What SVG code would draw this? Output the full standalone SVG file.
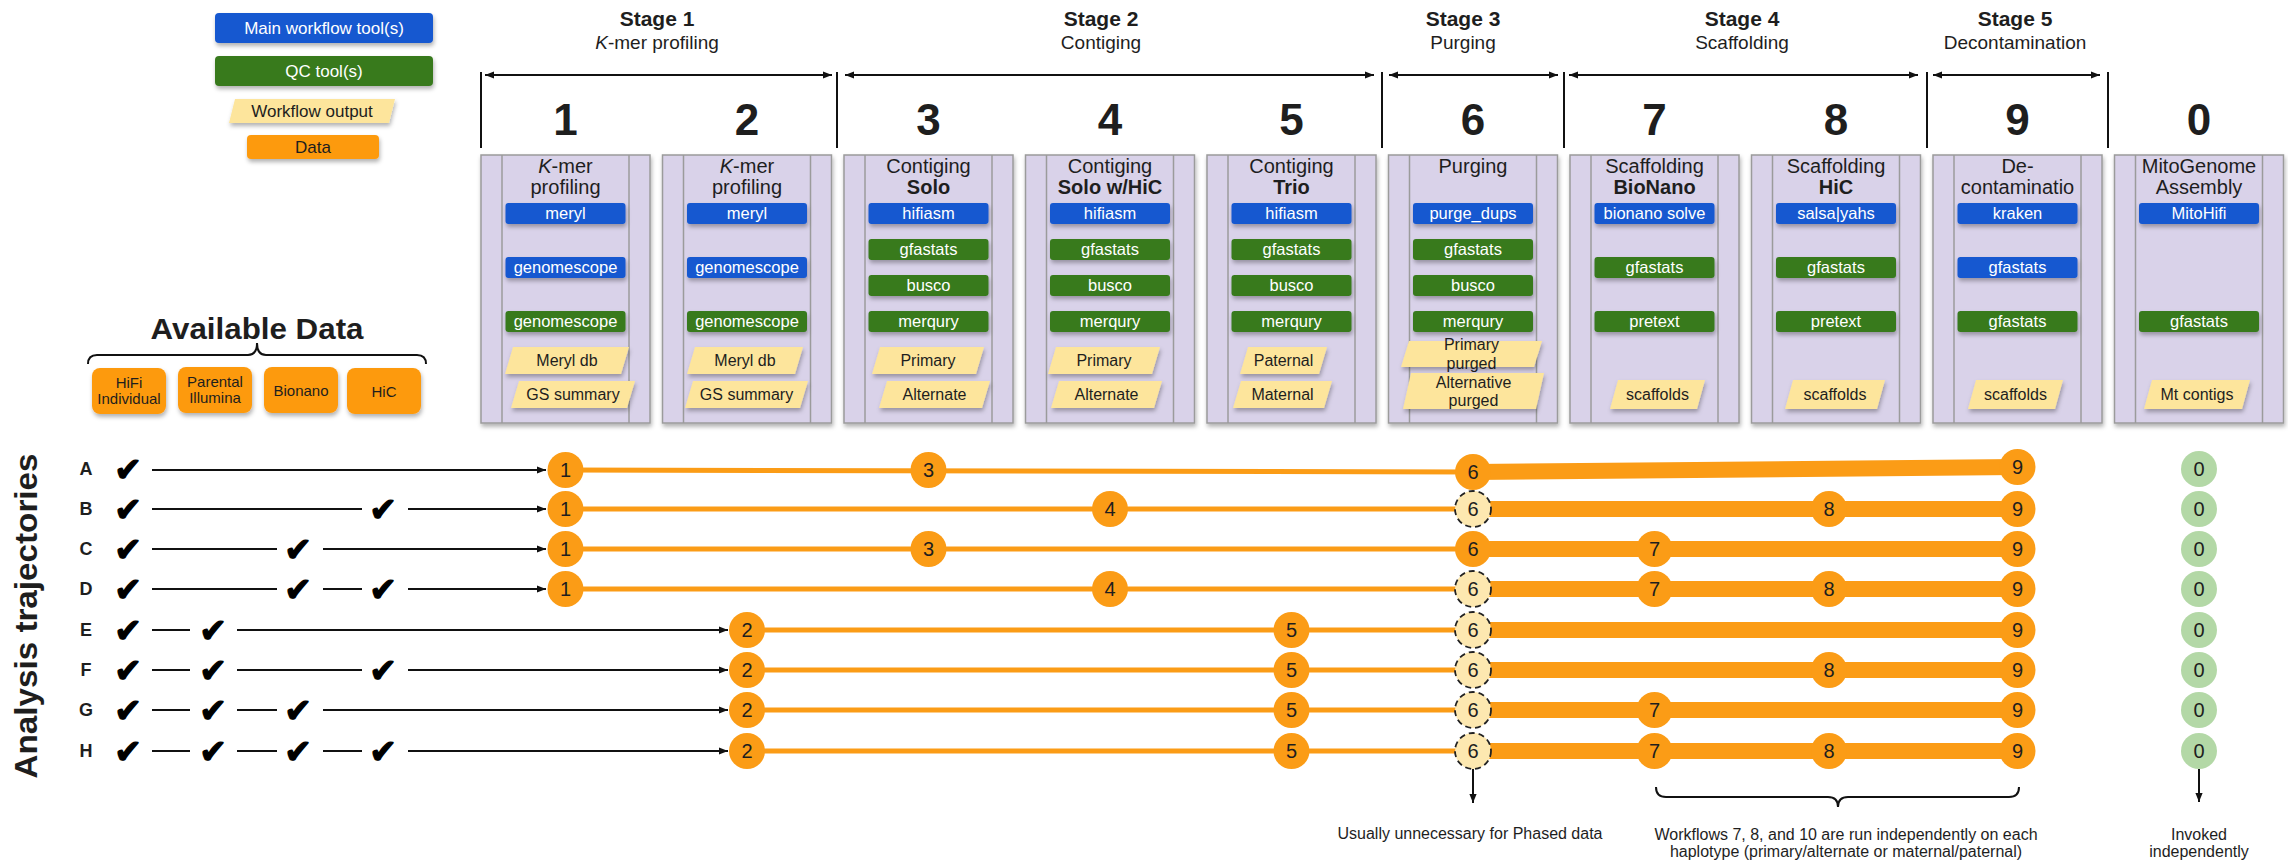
<svg xmlns="http://www.w3.org/2000/svg" width="2288" height="862" viewBox="0 0 2288 862">
  <defs>
    <style>
      text { font-family: "Liberation Sans", Arial, sans-serif; fill: #1e1e1e; }
      .stage { font-size: 21px; font-weight: bold; text-anchor: middle; }
      .sub { font-size: 19px; text-anchor: middle; }
      .num { font-size: 44px; font-weight: bold; text-anchor: middle; }
      .panel { fill: #d9d2e9; stroke: #9b9b9b; stroke-width: 1.5; }
      .strip { stroke: #9b9b9b; stroke-width: 1.5; }
      .ttl { font-size: 20px; text-anchor: middle; }
      .ttlb { font-size: 20px; font-weight: bold; text-anchor: middle; }
      .main { fill: #1558d0; }
      .qc { fill: #387a1f; }
      .tool { font-size: 16.5px; fill: #ffffff; text-anchor: middle; }
      .out { fill: #fde59c; }
      .otxt { font-size: 16px; text-anchor: middle; }
      .data { fill: #fd9a10; }
      .dtxt { font-size: 15px; text-anchor: middle; }
      .leg { font-size: 17px; text-anchor: middle; }
      .legw { font-size: 17px; text-anchor: middle; fill: #ffffff; }
      .row { font-size: 18px; font-weight: bold; text-anchor: middle; }
      .chk { font-family: "DejaVu Sans", sans-serif; font-size: 33px; text-anchor: middle; fill: #000; stroke: #000; stroke-width: 1.3; }
      .blk { stroke: #111; stroke-width: 2; fill: none; }
      .thin { stroke: #fb9c16; stroke-width: 5; fill: none; }
      .thick { stroke: #fb9c16; stroke-width: 16; fill: none; }
      .dot { fill: #fb9c16; }
      .opt { fill: #fde8b0; stroke: #222; stroke-width: 1.8; stroke-dasharray: 6 4; }
      .mito { fill: #b3d8a6; }
      .ctxt { font-size: 20px; text-anchor: middle; }
      .note { font-size: 16px; text-anchor: middle; }
      .brace { stroke: #111; stroke-width: 2; fill: none; }
    </style>
    <filter id="sh" x="-20%" y="-20%" width="140%" height="160%">
      <feDropShadow dx="1" dy="3" stdDeviation="2" flood-color="#000" flood-opacity="0.3"/>
    </filter>
    <marker id="ah" viewBox="0 0 10 10" refX="10" refY="5" markerWidth="10" markerHeight="9" markerUnits="userSpaceOnUse" orient="auto-start-reverse">
      <path d="M0,1 L10,5 L0,9 Z" fill="#111"/>
    </marker>
  </defs>

  <rect width="2288" height="862" fill="#ffffff"/>

  <!-- Legend -->
  <g id="legend">
    <rect x="215" y="13" width="218" height="30" rx="4" class="main" filter="url(#sh)"/>
    <text x="324" y="34" class="legw">Main workflow tool(s)</text>
    <rect x="215" y="56" width="218" height="30" rx="4" class="qc" filter="url(#sh)"/>
    <text x="324" y="77" class="legw">QC tool(s)</text>
    <polygon points="235,99 395,99 389,123 229,123" class="out" filter="url(#sh)"/>
    <text x="312" y="117" class="leg">Workflow output</text>
    <rect x="247" y="135" width="132" height="24" rx="4" class="data" filter="url(#sh)"/>
    <text x="313" y="153" class="leg">Data</text>
  </g>

  <!-- Stage headings -->
  <g id="stages">
    <text x="657" y="26" class="stage">Stage 1</text>
    <text x="657" y="49" class="sub"><tspan font-style="italic">K</tspan>-mer profiling</text>
    <text x="1101" y="26" class="stage">Stage 2</text>
    <text x="1101" y="49" class="sub">Contiging</text>
    <text x="1463" y="26" class="stage">Stage 3</text>
    <text x="1463" y="49" class="sub">Purging</text>
    <text x="1742" y="26" class="stage">Stage 4</text>
    <text x="1742" y="49" class="sub">Scaffolding</text>
    <text x="2015" y="26" class="stage">Stage 5</text>
    <text x="2015" y="49" class="sub">Decontamination</text>
    <!-- separators -->
    <g class="blk">
      <line x1="481" y1="72" x2="481" y2="148"/>
      <line x1="837" y1="72" x2="837" y2="148"/>
      <line x1="1382" y1="72" x2="1382" y2="148"/>
      <line x1="1564" y1="72" x2="1564" y2="148"/>
      <line x1="1927" y1="72" x2="1927" y2="148"/>
      <line x1="2108" y1="72" x2="2108" y2="148"/>
      <line x1="485" y1="75" x2="832" y2="75" marker-start="url(#ah)" marker-end="url(#ah)"/>
      <line x1="845" y1="75" x2="1374" y2="75" marker-start="url(#ah)" marker-end="url(#ah)"/>
      <line x1="1389" y1="75" x2="1558" y2="75" marker-start="url(#ah)" marker-end="url(#ah)"/>
      <line x1="1569" y1="75" x2="1918" y2="75" marker-start="url(#ah)" marker-end="url(#ah)"/>
      <line x1="1933" y1="75" x2="2100" y2="75" marker-start="url(#ah)" marker-end="url(#ah)"/>
    </g>
    <text x="565.5" y="135" class="num">1</text>
    <text x="747" y="135" class="num">2</text>
    <text x="928.5" y="135" class="num">3</text>
    <text x="1110" y="135" class="num">4</text>
    <text x="1291.5" y="135" class="num">5</text>
    <text x="1473" y="135" class="num">6</text>
    <text x="1654.5" y="135" class="num">7</text>
    <text x="1836" y="135" class="num">8</text>
    <text x="2017.5" y="135" class="num">9</text>
    <text x="2199" y="135" class="num">0</text>
  </g>

  <!-- Workflow 1 -->
  <g id="wf1" transform="translate(481,0)">
    <rect x="0" y="155" width="169" height="268" class="panel" filter="url(#sh)"/>
    <line x1="21" y1="155" x2="21" y2="423" class="strip"/>
    <line x1="148" y1="155" x2="148" y2="423" class="strip"/>
    <text x="84.5" y="173" class="ttl"><tspan font-style="italic">K</tspan>-mer</text>
    <text x="84.5" y="194" class="ttl">profiling</text>
    <rect x="24.5" y="203" width="120" height="21" rx="3" class="main" filter="url(#sh)"/>
    <text x="84.5" y="219" class="tool">meryl</text>
    <rect x="24.5" y="257" width="120" height="21" rx="3" class="main" filter="url(#sh)"/>
    <text x="84.5" y="273" class="tool">genomescope</text>
    <rect x="24.5" y="311" width="120" height="21" rx="3" class="qc" filter="url(#sh)"/>
    <text x="84.5" y="327" class="tool">genomescope</text>
    <polygon points="32,347 148,347 140,374 24,374" class="out" filter="url(#sh)"/>
    <text x="86" y="366" class="otxt">Meryl db</text>
    <polygon points="38,381 154,381 146,408 30,408" class="out" filter="url(#sh)"/>
    <text x="92" y="400" class="otxt">GS summary</text>
  </g>

  <!-- Workflow 2 -->
  <g id="wf2" transform="translate(662.5,0)">
    <rect x="0" y="155" width="169" height="268" class="panel" filter="url(#sh)"/>
    <line x1="21" y1="155" x2="21" y2="423" class="strip"/>
    <line x1="148" y1="155" x2="148" y2="423" class="strip"/>
    <text x="84.5" y="173" class="ttl"><tspan font-style="italic">K</tspan>-mer</text>
    <text x="84.5" y="194" class="ttl">profiling</text>
    <rect x="24.5" y="203" width="120" height="21" rx="3" class="main" filter="url(#sh)"/>
    <text x="84.5" y="219" class="tool">meryl</text>
    <rect x="24.5" y="257" width="120" height="21" rx="3" class="main" filter="url(#sh)"/>
    <text x="84.5" y="273" class="tool">genomescope</text>
    <rect x="24.5" y="311" width="120" height="21" rx="3" class="qc" filter="url(#sh)"/>
    <text x="84.5" y="327" class="tool">genomescope</text>
    <polygon points="32.5,347 140.5,347 132.5,374 24.5,374" class="out" filter="url(#sh)"/>
    <text x="82.5" y="366" class="otxt">Meryl db</text>
    <polygon points="30.5,381 145.5,381 137.5,408 22.5,408" class="out" filter="url(#sh)"/>
    <text x="84" y="400" class="otxt">GS summary</text>
  </g>

  <!-- Workflow 3 -->
  <g id="wf3" transform="translate(844,0)">
    <rect x="0" y="155" width="169" height="268" class="panel" filter="url(#sh)"/>
    <line x1="21" y1="155" x2="21" y2="423" class="strip"/>
    <line x1="148" y1="155" x2="148" y2="423" class="strip"/>
    <text x="84.5" y="173" class="ttl">Contiging</text>
    <text x="84.5" y="194" class="ttlb">Solo</text>
    <rect x="24.5" y="203" width="120" height="21" rx="3" class="main" filter="url(#sh)"/>
    <text x="84.5" y="219" class="tool">hifiasm</text>
    <rect x="24.5" y="239" width="120" height="21" rx="3" class="qc" filter="url(#sh)"/>
    <text x="84.5" y="255" class="tool">gfastats</text>
    <rect x="24.5" y="275" width="120" height="21" rx="3" class="qc" filter="url(#sh)"/>
    <text x="84.5" y="291" class="tool">busco</text>
    <rect x="24.5" y="311" width="120" height="21" rx="3" class="qc" filter="url(#sh)"/>
    <text x="84.5" y="327" class="tool">merqury</text>
    <polygon points="36,347 140,347 132,374 28,374" class="out" filter="url(#sh)"/>
    <text x="84" y="366" class="otxt">Primary</text>
    <polygon points="43,381 146,381 138,408 35,408" class="out" filter="url(#sh)"/>
    <text x="90.5" y="400" class="otxt">Alternate</text>
  </g>

  <!-- Workflow 4 -->
  <g id="wf4" transform="translate(1025.5,0)">
    <rect x="0" y="155" width="169" height="268" class="panel" filter="url(#sh)"/>
    <line x1="21" y1="155" x2="21" y2="423" class="strip"/>
    <line x1="148" y1="155" x2="148" y2="423" class="strip"/>
    <text x="84.5" y="173" class="ttl">Contiging</text>
    <text x="84.5" y="194" class="ttlb">Solo w/HiC</text>
    <rect x="24.5" y="203" width="120" height="21" rx="3" class="main" filter="url(#sh)"/>
    <text x="84.5" y="219" class="tool">hifiasm</text>
    <rect x="24.5" y="239" width="120" height="21" rx="3" class="qc" filter="url(#sh)"/>
    <text x="84.5" y="255" class="tool">gfastats</text>
    <rect x="24.5" y="275" width="120" height="21" rx="3" class="qc" filter="url(#sh)"/>
    <text x="84.5" y="291" class="tool">busco</text>
    <rect x="24.5" y="311" width="120" height="21" rx="3" class="qc" filter="url(#sh)"/>
    <text x="84.5" y="327" class="tool">merqury</text>
    <polygon points="30.5,347 134.5,347 126.5,374 22.5,374" class="out" filter="url(#sh)"/>
    <text x="78.5" y="366" class="otxt">Primary</text>
    <polygon points="33.5,381 136.5,381 128.5,408 25.5,408" class="out" filter="url(#sh)"/>
    <text x="81" y="400" class="otxt">Alternate</text>
  </g>

  <!-- Workflow 5 -->
  <g id="wf5" transform="translate(1207,0)">
    <rect x="0" y="155" width="169" height="268" class="panel" filter="url(#sh)"/>
    <line x1="21" y1="155" x2="21" y2="423" class="strip"/>
    <line x1="148" y1="155" x2="148" y2="423" class="strip"/>
    <text x="84.5" y="173" class="ttl">Contiging</text>
    <text x="84.5" y="194" class="ttlb">Trio</text>
    <rect x="24.5" y="203" width="120" height="21" rx="3" class="main" filter="url(#sh)"/>
    <text x="84.5" y="219" class="tool">hifiasm</text>
    <rect x="24.5" y="239" width="120" height="21" rx="3" class="qc" filter="url(#sh)"/>
    <text x="84.5" y="255" class="tool">gfastats</text>
    <rect x="24.5" y="275" width="120" height="21" rx="3" class="qc" filter="url(#sh)"/>
    <text x="84.5" y="291" class="tool">busco</text>
    <rect x="24.5" y="311" width="120" height="21" rx="3" class="qc" filter="url(#sh)"/>
    <text x="84.5" y="327" class="tool">merqury</text>
    <polygon points="41,347 120,347 112,374 33,374" class="out" filter="url(#sh)"/>
    <text x="76.5" y="366" class="otxt">Paternal</text>
    <polygon points="34,381 125,381 117,408 26,408" class="out" filter="url(#sh)"/>
    <text x="75.5" y="400" class="otxt">Maternal</text>
  </g>

  <!-- Workflow 6 -->
  <g id="wf6" transform="translate(1388.5,0)">
    <rect x="0" y="155" width="169" height="268" class="panel" filter="url(#sh)"/>
    <line x1="21" y1="155" x2="21" y2="423" class="strip"/>
    <line x1="148" y1="155" x2="148" y2="423" class="strip"/>
    <text x="84.5" y="173" class="ttl">Purging</text>
    <rect x="24.5" y="203" width="120" height="21" rx="3" class="main" filter="url(#sh)"/>
    <text x="84.5" y="219" class="tool">purge_dups</text>
    <rect x="24.5" y="239" width="120" height="21" rx="3" class="qc" filter="url(#sh)"/>
    <text x="84.5" y="255" class="tool">gfastats</text>
    <rect x="24.5" y="275" width="120" height="21" rx="3" class="qc" filter="url(#sh)"/>
    <text x="84.5" y="291" class="tool">busco</text>
    <rect x="24.5" y="311" width="120" height="21" rx="3" class="qc" filter="url(#sh)"/>
    <text x="84.5" y="327" class="tool">merqury</text>
    <polygon points="20.5,341 153.5,341 145.5,367 12.5,367" class="out" filter="url(#sh)"/>
    <text x="83" y="350" class="otxt">Primary</text>
    <text x="83" y="369" class="otxt">purged</text>
    <polygon points="22.5,373 155.5,373 147.5,409 14.5,409" class="out" filter="url(#sh)"/>
    <text x="85" y="388" class="otxt">Alternative</text>
    <text x="85" y="406" class="otxt">purged</text>
  </g>

  <!-- Workflow 7 -->
  <g id="wf7" transform="translate(1570,0)">
    <rect x="0" y="155" width="169" height="268" class="panel" filter="url(#sh)"/>
    <line x1="21" y1="155" x2="21" y2="423" class="strip"/>
    <line x1="148" y1="155" x2="148" y2="423" class="strip"/>
    <text x="84.5" y="173" class="ttl">Scaffolding</text>
    <text x="84.5" y="194" class="ttlb">BioNano</text>
    <rect x="24.5" y="203" width="120" height="21" rx="3" class="main" filter="url(#sh)"/>
    <text x="84.5" y="219" class="tool">bionano solve</text>
    <rect x="24.5" y="257" width="120" height="21" rx="3" class="qc" filter="url(#sh)"/>
    <text x="84.5" y="273" class="tool">gfastats</text>
    <rect x="24.5" y="311" width="120" height="21" rx="3" class="qc" filter="url(#sh)"/>
    <text x="84.5" y="327" class="tool">pretext</text>
    <polygon points="48,380 135,380 127,409 40,409" class="out" filter="url(#sh)"/>
    <text x="87.5" y="400" class="otxt">scaffolds</text>
  </g>

  <!-- Workflow 8 -->
  <g id="wf8" transform="translate(1751.5,0)">
    <rect x="0" y="155" width="169" height="268" class="panel" filter="url(#sh)"/>
    <line x1="21" y1="155" x2="21" y2="423" class="strip"/>
    <line x1="148" y1="155" x2="148" y2="423" class="strip"/>
    <text x="84.5" y="173" class="ttl">Scaffolding</text>
    <text x="84.5" y="194" class="ttlb">HiC</text>
    <rect x="24.5" y="203" width="120" height="21" rx="3" class="main" filter="url(#sh)"/>
    <text x="84.5" y="219" class="tool">salsa|yahs</text>
    <rect x="24.5" y="257" width="120" height="21" rx="3" class="qc" filter="url(#sh)"/>
    <text x="84.5" y="273" class="tool">gfastats</text>
    <rect x="24.5" y="311" width="120" height="21" rx="3" class="qc" filter="url(#sh)"/>
    <text x="84.5" y="327" class="tool">pretext</text>
    <polygon points="41.5,380 133.5,380 125.5,409 33.5,409" class="out" filter="url(#sh)"/>
    <text x="83.5" y="400" class="otxt">scaffolds</text>
  </g>

  <!-- Workflow 9 -->
  <g id="wf9" transform="translate(1933,0)">
    <rect x="0" y="155" width="169" height="268" class="panel" filter="url(#sh)"/>
    <line x1="21" y1="155" x2="21" y2="423" class="strip"/>
    <line x1="148" y1="155" x2="148" y2="423" class="strip"/>
    <text x="84.5" y="173" class="ttl">De-</text>
    <text x="84.5" y="194" class="ttl">contaminatio</text>
    <rect x="24.5" y="203" width="120" height="21" rx="3" class="main" filter="url(#sh)"/>
    <text x="84.5" y="219" class="tool">kraken</text>
    <rect x="24.5" y="257" width="120" height="21" rx="3" class="main" filter="url(#sh)"/>
    <text x="84.5" y="273" class="tool">gfastats</text>
    <rect x="24.5" y="311" width="120" height="21" rx="3" class="qc" filter="url(#sh)"/>
    <text x="84.5" y="327" class="tool">gfastats</text>
    <polygon points="43,380 130,380 122,409 35,409" class="out" filter="url(#sh)"/>
    <text x="82.5" y="400" class="otxt">scaffolds</text>
  </g>

  <!-- Workflow 0 -->
  <g id="wf0" transform="translate(2114.5,0)">
    <rect x="0" y="155" width="169" height="268" class="panel" filter="url(#sh)"/>
    <line x1="21" y1="155" x2="21" y2="423" class="strip"/>
    <line x1="148" y1="155" x2="148" y2="423" class="strip"/>
    <text x="84.5" y="173" class="ttl">MitoGenome</text>
    <text x="84.5" y="194" class="ttl">Assembly</text>
    <rect x="24.5" y="203" width="120" height="21" rx="3" class="main" filter="url(#sh)"/>
    <text x="84.5" y="219" class="tool">MitoHifi</text>
    <rect x="24.5" y="311" width="120" height="21" rx="3" class="qc" filter="url(#sh)"/>
    <text x="84.5" y="327" class="tool">gfastats</text>
    <polygon points="37.5,380 135.5,380 127.5,409 29.5,409" class="out" filter="url(#sh)"/>
    <text x="82.5" y="400" class="otxt">Mt contigs</text>
  </g>

  <!-- Available data -->
  <g id="available-data">
    <text x="257" y="339" font-size="30" font-weight="bold" text-anchor="middle" textLength="213" lengthAdjust="spacingAndGlyphs">Available Data</text>
    <path class="brace" d="M88,364 Q88,355 97,355 L248,355 Q257,355 257,343 Q257,355 266,355 L417,355 Q426,355 426,364"/>
    <g filter="url(#sh)">
      <rect x="92" y="368" width="74" height="46" rx="8" class="data"/>
      <rect x="178" y="367" width="74" height="46" rx="8" class="data"/>
      <rect x="264" y="367" width="74" height="46" rx="8" class="data"/>
      <rect x="347" y="368" width="74" height="46" rx="8" class="data"/>
    </g>
    <text x="129" y="388" class="dtxt">HiFi</text>
    <text x="129" y="404" class="dtxt">Individual</text>
    <text x="215" y="387" class="dtxt">Parental</text>
    <text x="215" y="403" class="dtxt">Illumina</text>
    <text x="301" y="396" class="dtxt">Bionano</text>
    <text x="384" y="397" class="dtxt">HiC</text>
  </g>

  <!-- Trajectory axis label and row letters -->
  <g id="trajectory-labels">
    <text transform="translate(37,616) rotate(-90)" font-size="31" font-weight="bold" text-anchor="middle" textLength="325" lengthAdjust="spacingAndGlyphs">Analysis trajectories</text>
    <text x="86" y="475" class="row">A</text>
    <text x="86" y="515" class="row">B</text>
    <text x="86" y="555" class="row">C</text>
    <text x="86" y="595" class="row">D</text>
    <text x="86" y="636" class="row">E</text>
    <text x="86" y="676" class="row">F</text>
    <text x="86" y="716" class="row">G</text>
    <text x="86" y="757" class="row">H</text>
  </g>

  <!-- Connectors -->
  <g id="connectors">
    <!-- data availability chains -->
    <g class="blk">
      <line x1="152" y1="470" x2="546" y2="470" marker-end="url(#ah)"/>
      <line x1="152" y1="509" x2="362" y2="509"/>
      <line x1="408" y1="509" x2="546" y2="509" marker-end="url(#ah)"/>
      <line x1="152" y1="549" x2="277" y2="549"/>
      <line x1="323" y1="549" x2="546" y2="549" marker-end="url(#ah)"/>
      <line x1="152" y1="589" x2="277" y2="589"/>
      <line x1="323" y1="589" x2="362" y2="589"/>
      <line x1="408" y1="589" x2="546" y2="589" marker-end="url(#ah)"/>
      <line x1="152" y1="630" x2="190" y2="630"/>
      <line x1="237" y1="630" x2="728" y2="630" marker-end="url(#ah)"/>
      <line x1="152" y1="670" x2="190" y2="670"/>
      <line x1="237" y1="670" x2="362" y2="670"/>
      <line x1="408" y1="670" x2="728" y2="670" marker-end="url(#ah)"/>
      <line x1="152" y1="710" x2="190" y2="710"/>
      <line x1="237" y1="710" x2="277" y2="710"/>
      <line x1="323" y1="710" x2="728" y2="710" marker-end="url(#ah)"/>
      <line x1="152" y1="751" x2="190" y2="751"/>
      <line x1="237" y1="751" x2="277" y2="751"/>
      <line x1="323" y1="751" x2="362" y2="751"/>
      <line x1="408" y1="751" x2="728" y2="751" marker-end="url(#ah)"/>
      <!-- notes -->
      <line x1="1473" y1="769" x2="1473" y2="803" marker-end="url(#ah)"/>
      <line x1="2199" y1="769" x2="2199" y2="802" marker-end="url(#ah)"/>
    </g>
    <!-- workflow paths -->
    <g class="thin">
      <line x1="565.5" y1="470" x2="1473" y2="472"/>
      <line x1="565.5" y1="509" x2="1473" y2="509"/>
      <line x1="565.5" y1="549" x2="1473" y2="549"/>
      <line x1="565.5" y1="589" x2="1473" y2="589"/>
      <line x1="747" y1="630" x2="1473" y2="630"/>
      <line x1="747" y1="670" x2="1473" y2="670"/>
      <line x1="747" y1="710" x2="1473" y2="710"/>
      <line x1="747" y1="751" x2="1473" y2="751"/>
    </g>
    <g class="thick">
      <line x1="1473" y1="472" x2="2017.5" y2="467"/>
      <line x1="1473" y1="509" x2="2017.5" y2="509"/>
      <line x1="1473" y1="549" x2="2017.5" y2="549"/>
      <line x1="1473" y1="589" x2="2017.5" y2="589"/>
      <line x1="1473" y1="630" x2="2017.5" y2="630"/>
      <line x1="1473" y1="670" x2="2017.5" y2="670"/>
      <line x1="1473" y1="710" x2="2017.5" y2="710"/>
      <line x1="1473" y1="751" x2="2017.5" y2="751"/>
    </g>
    <path class="brace" d="M1656,787 Q1656,797 1666,797 L1828,797 Q1838,797 1838,807 Q1838,797 1848,797 L2009,797 Q2019,797 2019,787"/>
  </g>

  <!-- Row A -->
  <g id="row-A">
    <text x="128" y="481" class="chk">✔</text>
    <circle cx="565.5" cy="470" r="18" class="dot"/><text x="565.5" y="477" class="ctxt">1</text>
    <circle cx="928.5" cy="470" r="18" class="dot"/><text x="928.5" y="477" class="ctxt">3</text>
    <circle cx="1473" cy="472" r="18" class="dot"/><text x="1473" y="479" class="ctxt">6</text>
    <circle cx="2017.5" cy="467" r="18" class="dot"/><text x="2017.5" y="474" class="ctxt">9</text>
    <circle cx="2199" cy="469" r="18" class="mito"/><text x="2199" y="476" class="ctxt">0</text>
  </g>

  <!-- Row B -->
  <g id="row-B">
    <text x="128" y="521" class="chk">✔</text>
    <text x="383" y="521" class="chk">✔</text>
    <circle cx="565.5" cy="509" r="18" class="dot"/><text x="565.5" y="516" class="ctxt">1</text>
    <circle cx="1110" cy="509" r="18" class="dot"/><text x="1110" y="516" class="ctxt">4</text>
    <circle cx="1473" cy="509" r="18" class="opt"/><text x="1473" y="516" class="ctxt">6</text>
    <circle cx="1829" cy="509" r="18" class="dot"/><text x="1829" y="516" class="ctxt">8</text>
    <circle cx="2017.5" cy="509" r="18" class="dot"/><text x="2017.5" y="516" class="ctxt">9</text>
    <circle cx="2199" cy="509" r="18" class="mito"/><text x="2199" y="516" class="ctxt">0</text>
  </g>

  <!-- Row C -->
  <g id="row-C">
    <text x="128" y="561" class="chk">✔</text>
    <text x="298" y="561" class="chk">✔</text>
    <circle cx="565.5" cy="549" r="18" class="dot"/><text x="565.5" y="556" class="ctxt">1</text>
    <circle cx="928.5" cy="549" r="18" class="dot"/><text x="928.5" y="556" class="ctxt">3</text>
    <circle cx="1473" cy="549" r="18" class="dot"/><text x="1473" y="556" class="ctxt">6</text>
    <circle cx="1654.5" cy="549" r="18" class="dot"/><text x="1654.5" y="556" class="ctxt">7</text>
    <circle cx="2017.5" cy="549" r="18" class="dot"/><text x="2017.5" y="556" class="ctxt">9</text>
    <circle cx="2199" cy="549" r="18" class="mito"/><text x="2199" y="556" class="ctxt">0</text>
  </g>

  <!-- Row D -->
  <g id="row-D">
    <text x="128" y="601" class="chk">✔</text>
    <text x="298" y="601" class="chk">✔</text>
    <text x="383" y="601" class="chk">✔</text>
    <circle cx="565.5" cy="589" r="18" class="dot"/><text x="565.5" y="596" class="ctxt">1</text>
    <circle cx="1110" cy="589" r="18" class="dot"/><text x="1110" y="596" class="ctxt">4</text>
    <circle cx="1473" cy="589" r="18" class="opt"/><text x="1473" y="596" class="ctxt">6</text>
    <circle cx="1654.5" cy="589" r="18" class="dot"/><text x="1654.5" y="596" class="ctxt">7</text>
    <circle cx="1829" cy="589" r="18" class="dot"/><text x="1829" y="596" class="ctxt">8</text>
    <circle cx="2017.5" cy="589" r="18" class="dot"/><text x="2017.5" y="596" class="ctxt">9</text>
    <circle cx="2199" cy="589" r="18" class="mito"/><text x="2199" y="596" class="ctxt">0</text>
  </g>

  <!-- Row E -->
  <g id="row-E">
    <text x="128" y="642" class="chk">✔</text>
    <text x="213" y="642" class="chk">✔</text>
    <circle cx="747" cy="630" r="18" class="dot"/><text x="747" y="637" class="ctxt">2</text>
    <circle cx="1291.5" cy="630" r="18" class="dot"/><text x="1291.5" y="637" class="ctxt">5</text>
    <circle cx="1473" cy="630" r="18" class="opt"/><text x="1473" y="637" class="ctxt">6</text>
    <circle cx="2017.5" cy="630" r="18" class="dot"/><text x="2017.5" y="637" class="ctxt">9</text>
    <circle cx="2199" cy="630" r="18" class="mito"/><text x="2199" y="637" class="ctxt">0</text>
  </g>

  <!-- Row F -->
  <g id="row-F">
    <text x="128" y="682" class="chk">✔</text>
    <text x="213" y="682" class="chk">✔</text>
    <text x="383" y="682" class="chk">✔</text>
    <circle cx="747" cy="670" r="18" class="dot"/><text x="747" y="677" class="ctxt">2</text>
    <circle cx="1291.5" cy="670" r="18" class="dot"/><text x="1291.5" y="677" class="ctxt">5</text>
    <circle cx="1473" cy="670" r="18" class="opt"/><text x="1473" y="677" class="ctxt">6</text>
    <circle cx="1829" cy="670" r="18" class="dot"/><text x="1829" y="677" class="ctxt">8</text>
    <circle cx="2017.5" cy="670" r="18" class="dot"/><text x="2017.5" y="677" class="ctxt">9</text>
    <circle cx="2199" cy="670" r="18" class="mito"/><text x="2199" y="677" class="ctxt">0</text>
  </g>

  <!-- Row G -->
  <g id="row-G">
    <text x="128" y="722" class="chk">✔</text>
    <text x="213" y="722" class="chk">✔</text>
    <text x="298" y="722" class="chk">✔</text>
    <circle cx="747" cy="710" r="18" class="dot"/><text x="747" y="717" class="ctxt">2</text>
    <circle cx="1291.5" cy="710" r="18" class="dot"/><text x="1291.5" y="717" class="ctxt">5</text>
    <circle cx="1473" cy="710" r="18" class="opt"/><text x="1473" y="717" class="ctxt">6</text>
    <circle cx="1654.5" cy="710" r="18" class="dot"/><text x="1654.5" y="717" class="ctxt">7</text>
    <circle cx="2017.5" cy="710" r="18" class="dot"/><text x="2017.5" y="717" class="ctxt">9</text>
    <circle cx="2199" cy="710" r="18" class="mito"/><text x="2199" y="717" class="ctxt">0</text>
  </g>

  <!-- Row H -->
  <g id="row-H">
    <text x="128" y="763" class="chk">✔</text>
    <text x="213" y="763" class="chk">✔</text>
    <text x="298" y="763" class="chk">✔</text>
    <text x="383" y="763" class="chk">✔</text>
    <circle cx="747" cy="751" r="18" class="dot"/><text x="747" y="758" class="ctxt">2</text>
    <circle cx="1291.5" cy="751" r="18" class="dot"/><text x="1291.5" y="758" class="ctxt">5</text>
    <circle cx="1473" cy="751" r="18" class="opt"/><text x="1473" y="758" class="ctxt">6</text>
    <circle cx="1654.5" cy="751" r="18" class="dot"/><text x="1654.5" y="758" class="ctxt">7</text>
    <circle cx="1829" cy="751" r="18" class="dot"/><text x="1829" y="758" class="ctxt">8</text>
    <circle cx="2017.5" cy="751" r="18" class="dot"/><text x="2017.5" y="758" class="ctxt">9</text>
    <circle cx="2199" cy="751" r="18" class="mito"/><text x="2199" y="758" class="ctxt">0</text>
  </g>

  <!-- Notes -->
  <g id="notes">
    <text x="1470" y="839" class="note">Usually unnecessary for Phased data</text>
    <text x="1846" y="840" class="note">Workflows 7, 8, and 10 are run independently on each</text>
    <text x="1846" y="857" class="note">haplotype (primary/alternate or maternal/paternal)</text>
    <text x="2199" y="840" class="note">Invoked</text>
    <text x="2199" y="857" class="note">independently</text>
  </g>
</svg>
